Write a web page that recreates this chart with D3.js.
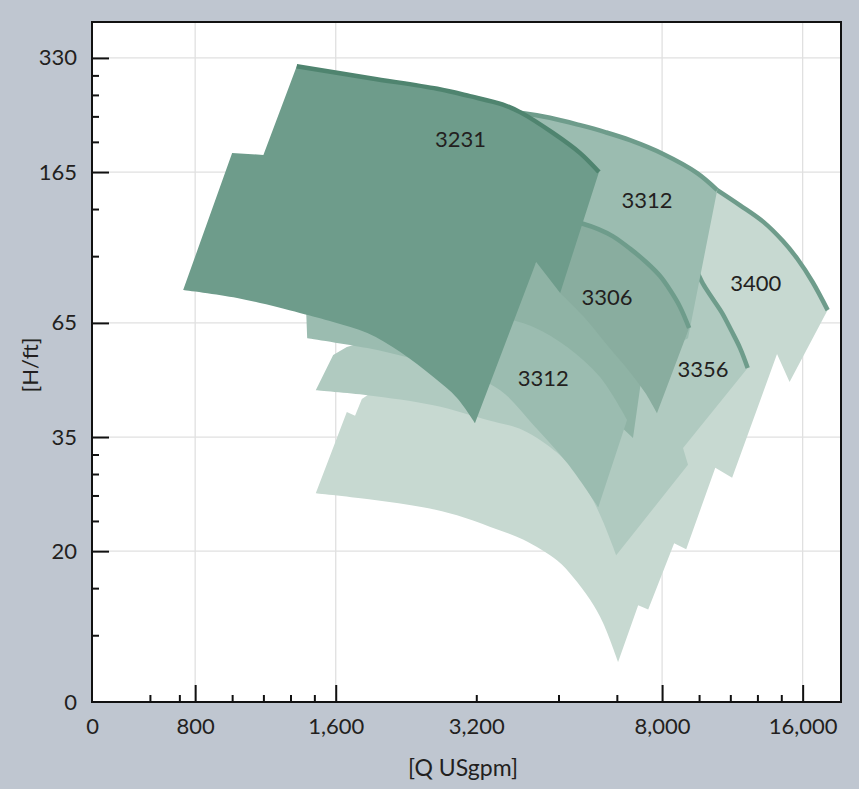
<!DOCTYPE html>
<html>
<head>
<meta charset="utf-8">
<script src="https://cdn.jsdelivr.net/npm/d3@7"></script>
<style>
html, body { margin: 0; padding: 0; background: #bfc6d0; }
svg { display: block; }
text { font-family: Lato, "Open Sans", sans-serif; fill: #231f20; }
</style>
</head>
<body>
<svg id="chart" width="859" height="789"></svg>
<script>
// --- AXIS DATA ---
const xTickMajor = [800, 1600, 8000, 16000];
const xTickMinor = [640, 740, 960, 1120, 1280, 1440, 3200, 4800, 6400, 9600, 11200, 12800, 14400];
const xLabelValues = [481, 800, 1600, 3200, 8000, 16000];
const xLabels = ["0", "800", "1,600", "3,200", "8,000", "16,000"];
const yTickMajor = [328, 164, 65.6, 32.8, 16.4];
const yTickMinor = [295, 262, 230, 197, 131, 98.4, 29.5, 26.2, 23.0, 19.7, 13.1, 9.84];
const yLabelValues = [328, 164, 65.6, 32.8, 16.4, 6.56];
const yLabels = ["330", "165", "65", "35", "20", "0"];

// --- PUMP RANGES [Q gpm, H ft] ---
// 3400 + lowest speed ranges
const top3400 = [[10500,147],[11750,134],[13200,121],[14500,108],[15600,96.7],[16800,84.1],[18100,70.9]];
const right3400 = [[15000,45.8],[14100,54.3],[11300,25.6],[10400,27.2],[9010,16.6],[8490,17.2],[7470,11.5],[7110,11.8]];
const bottom3400 = [[6440,8.36],[5980,10.6],[5610,12.2],[5160,14.0],[4770,15.5],[4030,17.6],[3430,19.0],[2910,20.4],[2460,21.4],[1920,22.4],[1450,23.3]];
const left3400 = [[1690,38.2],[1760,37.3],[1820,41.3],[1940,43.6],[2810,46.4],[5890,32.2],[8740,62.8],[9650,96.1],[10300,143]];

// 3356 + next range
const top3356 = [[8740,105],[9410,91.6],[9790,83.1],[10240,76.3],[10750,69.7],[11240,62.8],[11750,56.3],[12200,49.9]];
const right3356 = [[8870,30.7],[9090,27.7]];
const bottom3356 = [[6380,16.0],[5980,19.6],[5610,23.1],[5210,26.5],[4770,29.8],[4030,34.2],[3380,36.4],[2590,39.8],[1870,42.3],[1450,43.6]];
const left3356 = [[1580,54.0],[1690,56.7],[1900,59.1],[2960,62.8],[3600,75.4],[4170,102],[5890,109],[7180,115]];

// band under 3306
const band3306 = [[4300,95.0],[4840,102],[5890,102],[7540,75.4],[7470,59.1],[7180,44.4],[6930,32.6],[6440,35.5],[5610,41.1],[4380,52.4],[3510,55.6]];

// 3312 lower
const top3312b = [[3690,67.6],[4240,64.0],[5010,56.7],[5890,47.2],[6730,36.4]];
const bottom3312b = [[5840,21.4],[5010,28.0],[4240,35.3],[3600,43.6],[2960,48.7],[2310,53.0],[1870,56.3],[1390,59.8]];
const left3312b = [[1380,75.4],[3100,62.8]];

// 3312 upper
const top3312a = [[3100,242],[3970,235],[4600,228],[5340,218],[6040,209],[6830,199],[8040,183],[9510,163],[10500,147]];
const right3312a = [[9090,59.8]];
const left3312a = [[8120,55.6],[7180,48.7],[6190,61.0],[5420,75.4],[4720,87.8],[3100,138]];

// 3306
const top3306 = [[4380,126],[4840,124],[5390,120],[5840,116],[6280,111],[6830,103],[7430,94.4],[7920,87.2],[8320,80.1],[8740,72.3],[9140,63.6]];
const bottom3306 = [[7800,37.9],[7360,42.9],[6770,49.3],[6100,57.4],[5420,68.4],[4840,78.7]];
const left3306 = [[4560,89.4]];

// 3231
const top3231 = [[1320,312],[1900,290],[2640,272],[3100,260],[3650,247],[3970,236],[4670,208],[5340,184],[5860,164]];
const right3231 = [[4840,78.7],[4300,95.0]];
const bottom3231 = [[3180,35.7],[2910,41.6],[2590,47.2],[2200,55.0],[1870,61.7],[1580,66.0],[1340,69.7],[984,76.3],[754,80.1]];
const left3231 = [[960,184],[1120,182]];

// labels
const labelNames = ["3231", "3312", "3306", "3312", "3356", "3400"];
const labelQ = [2960, 7430, 6100, 4450, 9790, 12700];
const labelH = [200, 138, 76.8, 46.9, 49.6, 83.6];

// --- SETUP ---
const plot = { left: 92, right: 841, top: 22, bottom: 702 };
const x = d3.scaleLog().domain([481, 19330]).range([plot.left, plot.right]);
const y = d3.scaleLog().domain([6.56, 408]).range([plot.bottom, plot.top]);

const svg = d3.select("#chart");

svg.append("rect")
    .attr("x", plot.left).attr("y", plot.top)
    .attr("width", plot.right - plot.left).attr("height", plot.bottom - plot.top)
    .attr("fill", "#fff");

// grid
const grid = svg.append("g").attr("stroke", "#e0e0e0").attr("stroke-width", 1.3);
grid.selectAll("line.gx").data(xTickMajor).join("line")
    .attr("x1", d => x(d)).attr("x2", d => x(d))
    .attr("y1", plot.top).attr("y2", plot.bottom);
grid.selectAll("line.gy").data(yTickMajor).join("line")
    .attr("y1", d => y(d)).attr("y2", d => y(d))
    .attr("x1", plot.left).attr("x2", plot.right);

// --- RANGES ---
const regions = [
    { top: top3400, right: right3400, bottom: bottom3400, left: left3400, fill: "#c7d9d1", stroke: "#6e9c8b" },
    { top: top3356, right: right3356, bottom: bottom3356, left: left3356, fill: "#b0cac0", stroke: "#6e9c8b" },
    { top: band3306.slice(0, 1), right: band3306.slice(1), bottom: [], left: [], fill: "#8fb3a5", stroke: null },
    { top: top3312b, right: [], bottom: bottom3312b, left: left3312b, fill: "#9bbcb0", stroke: null },
    { top: top3312a, right: right3312a, bottom: [], left: left3312a, fill: "#9bbcb0", stroke: "#6e9c8b" },
    { top: top3306, right: [], bottom: bottom3306, left: left3306, fill: "#89ad9f", stroke: "#6e9c8b" },
    { top: top3231, right: right3231, bottom: bottom3231, left: left3231, fill: "#6e9c8b", stroke: "#4f846f" }
];

const curved = d3.line().x(d => x(d[0])).y(d => y(d[1])).curve(d3.curveCatmullRom.alpha(0.5));
const pt = p => `${x(p[0])},${y(p[1])}`;

function outline(r) {
    let d = r.top.length > 1 ? curved(r.top) : "M" + pt(r.top[0]);
    r.right.forEach(p => d += "L" + pt(p));
    if (r.bottom.length > 1) d += curved(r.bottom).replace("M", "L");
    else r.bottom.forEach(p => d += "L" + pt(p));
    r.left.forEach(p => d += "L" + pt(p));
    return d + "Z";
}

const shapes = svg.append("g");
regions.forEach(r => {
    shapes.append("path").attr("d", outline(r)).attr("fill", r.fill);
    if (r.stroke && r.top.length > 1) {
        shapes.append("path").attr("d", curved(r.top))
            .attr("fill", "none").attr("stroke", r.stroke).attr("stroke-width", 4.5);
    }
});

svg.append("g").selectAll("text").data(labelNames).join("text")
    .attr("x", (d, i) => x(labelQ[i]))
    .attr("y", (d, i) => y(labelH[i]))
    .attr("dy", "0.36em")
    .attr("text-anchor", "middle")
    .attr("font-size", 22)
    .text(d => d);

// --- AXES ---
svg.append("rect")
    .attr("x", plot.left).attr("y", plot.top)
    .attr("width", plot.right - plot.left).attr("height", plot.bottom - plot.top)
    .attr("fill", "none").attr("stroke", "#111").attr("stroke-width", 2);

function ticks(axis, size, vals, transform) {
    const g = svg.append("g").attr("transform", transform)
        .call(axis.tickValues(vals).tickSize(size).tickFormat(""));
    g.select(".domain").remove();
    g.selectAll(".tick line").attr("stroke", "#111").attr("stroke-width", 2);
}
ticks(d3.axisBottom(x), -17, xTickMajor, `translate(0,${plot.bottom})`);
ticks(d3.axisBottom(x), -7, xTickMinor, `translate(0,${plot.bottom})`);
ticks(d3.axisLeft(y), -17, yTickMajor, `translate(${plot.left},0)`);
ticks(d3.axisLeft(y), -7, yTickMinor, `translate(${plot.left},0)`);

const xl = svg.append("g").attr("transform", `translate(0,${plot.bottom})`)
    .call(d3.axisBottom(x).tickValues(xLabelValues).tickSize(0).tickPadding(16)
        .tickFormat((d, i) => xLabels[i]));
xl.select(".domain").remove();
xl.selectAll("text").attr("font-size", 22).attr("font-family", "Lato, sans-serif").attr("fill", "#231f20");

const yl = svg.append("g").attr("transform", `translate(${plot.left},0)`)
    .call(d3.axisLeft(y).tickValues(yLabelValues).tickSize(0).tickPadding(15)
        .tickFormat((d, i) => yLabels[i]));
yl.select(".domain").remove();
yl.selectAll("text").attr("font-size", 22).attr("font-family", "Lato, sans-serif").attr("fill", "#231f20");

svg.append("text")
    .attr("x", 463).attr("y", 776)
    .attr("text-anchor", "middle").attr("font-size", 23)
    .text("[Q USgpm]");

svg.append("text")
    .attr("transform", "translate(38,365) rotate(-90)")
    .attr("text-anchor", "middle").attr("font-size", 22)
    .text("[H/ft]");
</script>
</body>
</html>
